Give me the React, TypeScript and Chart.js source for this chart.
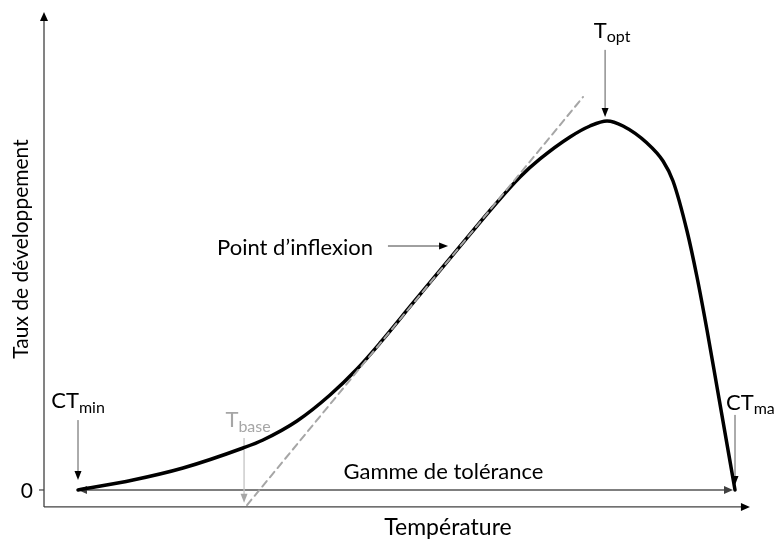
import { useEffect, useRef } from 'react';
import { Chart, registerables } from 'chart.js';

Chart.register(...registerables);

// Development-rate curve (temperature in arbitrary units, rate normalised to Topt = 1)
const curveTemperature = [0, 3.349, 6.393, 10.046, 11.263, 13.333, 15.342, 16.986, 18.387, 20.396, 23.075, 25.266, 26.91, 28.128, 29.954, 31.172, 32.207, 33.181, 34.642, 35.616, 36.225, 37.078, 37.686, 38.295, 38.904, 40];
const curveRate = [0, 0.0272, 0.0598, 0.1141, 0.1359, 0.1875, 0.2582, 0.3288, 0.3995, 0.5082, 0.6522, 0.769, 0.8505, 0.8995, 0.9592, 0.9891, 1.0027, 0.9891, 0.9429, 0.894, 0.8397, 0.7038, 0.5788, 0.4348, 0.2799, 0];

// Tangent at the inflexion point
const tangentTemperature = [10.29, 30.75];
const tangentRate = [-0.041, 1.068];

// Axis extents
const axisOrigin = [-2.07, -0.046];
const axisEnd = [40.91, 1.299];
const scaleX = [-4.749, 42.374];
const scaleY = [-0.1332, 1.3315];

// Markers
const markerMain = ['CT', 'T', 'T', 'CT'];
const markerSub = ['min', 'base', 'opt', 'max'];
const markerTemperature = [0, 10.11, 32.09, 40];
const markerArrowFrom = [0.19, 0.141, 1.196, 0.204];
const markerArrowTo = [0.027, -0.035, 1.0136, 0.0136];

const inflexionArrowT = [18.87, 22.53];
const inflexionArrowR = 0.663;
const toleranceRange = [0, 40];
const toleranceLabelT = 22.25;

const yTickValues = [0];
const yTickLabels = ['0'];

const xTitle = 'Température';
const yTitle = 'Taux de développement';
const inflexionLabel = 'Point d\u2019inflexion';
const toleranceLabel = 'Gamme de tolérance';

const FONT = 'Lato, "Open Sans", sans-serif';

function head(ctx: CanvasRenderingContext2D, x1: number, y1: number, x2: number, y2: number, len: number, w: number, color: string) {
  const a = Math.atan2(y2 - y1, x2 - x1);
  ctx.save();
  ctx.fillStyle = color;
  ctx.beginPath();
  ctx.moveTo(x2, y2);
  ctx.lineTo(x2 - len * Math.cos(a) + (w / 2) * Math.sin(a), y2 - len * Math.sin(a) - (w / 2) * Math.cos(a));
  ctx.lineTo(x2 - len * Math.cos(a) - (w / 2) * Math.sin(a), y2 - len * Math.sin(a) + (w / 2) * Math.cos(a));
  ctx.closePath();
  ctx.fill();
  ctx.restore();
}

function line(ctx: CanvasRenderingContext2D, x1: number, y1: number, x2: number, y2: number, color: string, width: number) {
  ctx.save();
  ctx.strokeStyle = color;
  ctx.lineWidth = width;
  ctx.beginPath();
  ctx.moveTo(x1, y1);
  ctx.lineTo(x2, y2);
  ctx.stroke();
  ctx.restore();
}

function subLabel(ctx: CanvasRenderingContext2D, main: string, sub: string, x: number, baseline: number, color: string, align: 'center' | 'left') {
  ctx.save();
  ctx.fillStyle = color;
  ctx.textBaseline = 'alphabetic';
  ctx.textAlign = 'left';
  ctx.font = `22px ${FONT}`;
  const wMain = ctx.measureText(main).width;
  ctx.font = `16px ${FONT}`;
  const wSub = ctx.measureText(sub).width;
  const left = align === 'center' ? x - (wMain + wSub) / 2 : x;
  ctx.font = `22px ${FONT}`;
  ctx.fillText(main, left, baseline);
  ctx.font = `16px ${FONT}`;
  ctx.fillText(sub, left + wMain, baseline + 4.5);
  ctx.restore();
}

const schematicPlugin = {
  id: 'schematic',
  beforeDatasetsDraw(chart: any) {
    const ctx: CanvasRenderingContext2D = chart.ctx;
    const xs = chart.scales.x;
    const ys = chart.scales.y;
    const X = (v: number) => xs.getPixelForValue(v);
    const Y = (v: number) => ys.getPixelForValue(v);
    const axisCol = '#404040';
    const ox = X(axisOrigin[0]);
    const oy = Y(axisOrigin[1]);

    // axes
    line(ctx, ox, oy, ox, Y(axisEnd[1]) + 6, axisCol, 1.3);
    head(ctx, ox, oy, ox, Y(axisEnd[1]), 9, 8, '#000');
    line(ctx, ox, oy, X(axisEnd[0]) - 6, oy, axisCol, 1.3);
    head(ctx, ox, oy, X(axisEnd[0]), oy, 9, 8, '#000');

    // y tick
    ctx.save();
    ctx.font = `21px ${FONT}`;
    ctx.fillStyle = '#000';
    ctx.textAlign = 'right';
    ctx.textBaseline = 'middle';
    yTickValues.forEach((v, i) => {
      line(ctx, ox - 5, Y(v), ox, Y(v), axisCol, 1.2);
      ctx.fillText(yTickLabels[i], ox - 11, Y(v) + 1);
    });
    ctx.restore();

    // tolerance range double arrow
    const tx1 = X(toleranceRange[0]);
    const tx2 = X(toleranceRange[1]);
    const ty = Y(0);
    line(ctx, tx1 + 6, ty, tx2 - 6, ty, '#7f7f7f', 2);
    head(ctx, tx2, ty, tx1, ty, 9, 8, '#404040');
    head(ctx, tx1, ty, tx2 - 2, ty, 9, 8, '#404040');

    // Tbase arrow (light gray)
    const bx = X(markerTemperature[1]);
    line(ctx, bx, Y(markerArrowFrom[1]), bx, Y(markerArrowTo[1]) - 6, '#c4c4c4', 1.3);
    head(ctx, bx, Y(markerArrowFrom[1]), bx, Y(markerArrowTo[1]), 9, 7, '#a6a6a6');

    // texts
    ctx.save();
    ctx.fillStyle = '#000';
    ctx.font = `22px ${FONT}`;
    ctx.textBaseline = 'alphabetic';
    ctx.textAlign = 'center';
    ctx.fillText(toleranceLabel, X(toleranceLabelT), ty - 11);
    ctx.font = `23px ${FONT}`;
    ctx.fillText(xTitle, 448, oy + 28);
    ctx.font = `21px ${FONT}`;
    ctx.translate(28, 249);
    ctx.rotate(-Math.PI / 2);
    ctx.fillText(yTitle, 0, 0);
    ctx.restore();

    ctx.save();
    ctx.fillStyle = '#000';
    ctx.font = `22px ${FONT}`;
    ctx.textBaseline = 'alphabetic';
    ctx.textAlign = 'right';
    const iy = Y(inflexionArrowR);
    ctx.fillText(inflexionLabel, X(inflexionArrowT[0]) - 15, iy + 9);
    ctx.restore();
    line(ctx, X(inflexionArrowT[0]), iy, X(inflexionArrowT[1]) - 6, iy, '#404040', 1);
    head(ctx, X(inflexionArrowT[0]), iy, X(inflexionArrowT[1]), iy, 9, 7, '#000');

    // marker labels
    subLabel(ctx, markerMain[0], markerSub[0], X(markerTemperature[0]), Y(markerArrowFrom[0]) - 12, '#000', 'center');
    subLabel(ctx, markerMain[1], markerSub[1], X(markerTemperature[1]) + 4, Y(markerArrowFrom[1]) - 11, '#a6a6a6', 'center');
    subLabel(ctx, markerMain[2], markerSub[2], X(markerTemperature[2]) + 7, Y(markerArrowFrom[2]) - 12, '#000', 'center');
    subLabel(ctx, markerMain[3], markerSub[3], X(markerTemperature[3]) - 9, Y(markerArrowFrom[3]) - 5, '#000', 'left');
  },
  afterDatasetsDraw(chart: any) {
    const ctx: CanvasRenderingContext2D = chart.ctx;
    const xs = chart.scales.x;
    const ys = chart.scales.y;
    const X = (v: number) => xs.getPixelForValue(v);
    const Y = (v: number) => ys.getPixelForValue(v);
    [0, 2, 3].forEach((i) => {
      const x = X(markerTemperature[i]);
      const y1 = Y(markerArrowFrom[i]);
      const y2 = Y(markerArrowTo[i]);
      line(ctx, x, y1, x, y2 - 6, '#595959', 1);
      head(ctx, x, y1, x, y2, 9, 7, '#000');
    });
  },
};

export default function App() {
  const ref = useRef<HTMLCanvasElement | null>(null);
  useEffect(() => {
    document.body.style.margin = '0';
    if (!ref.current) return;
    const chart = new Chart(ref.current, {
      type: 'line',
      data: {
        datasets: [
          {
            label: 'tangent',
            data: tangentTemperature.map((t, i) => ({ x: t, y: tangentRate[i] })),
            borderColor: '#a6a6a6',
            borderWidth: 2,
            borderDash: [7, 5],
            pointRadius: 0,
            fill: false,
          },
          {
            label: 'rate',
            data: curveTemperature.map((t, i) => ({ x: t, y: curveRate[i] })),
            borderColor: '#000',
            borderWidth: 3.5,
            pointRadius: 0,
            cubicInterpolationMode: 'monotone',
            fill: false,
          },
        ],
      },
      options: {
        animation: false,
        responsive: false,
        maintainAspectRatio: false,
        layout: { padding: 0 },
        scales: {
          x: { type: 'linear', display: false, min: scaleX[0], max: scaleX[1] },
          y: { type: 'linear', display: false, min: scaleY[0], max: scaleY[1] },
        },
        plugins: { legend: { display: false }, tooltip: { enabled: false } },
        elements: { line: { borderCapStyle: 'round', borderJoinStyle: 'round' } },
      } as any,
      plugins: [schematicPlugin],
    });
    const fonts: any = (document as any).fonts;
    if (fonts && fonts.load) {
      fonts.load(`20px Lato`).then(() => chart.draw()).catch(() => {});
    }
    return () => chart.destroy();
  }, []);
  return (
    <div style={{ width: 774, height: 539, background: '#fff' }}>
      <canvas ref={ref} width={774} height={539} style={{ display: 'block' }} />
    </div>
  );
}
